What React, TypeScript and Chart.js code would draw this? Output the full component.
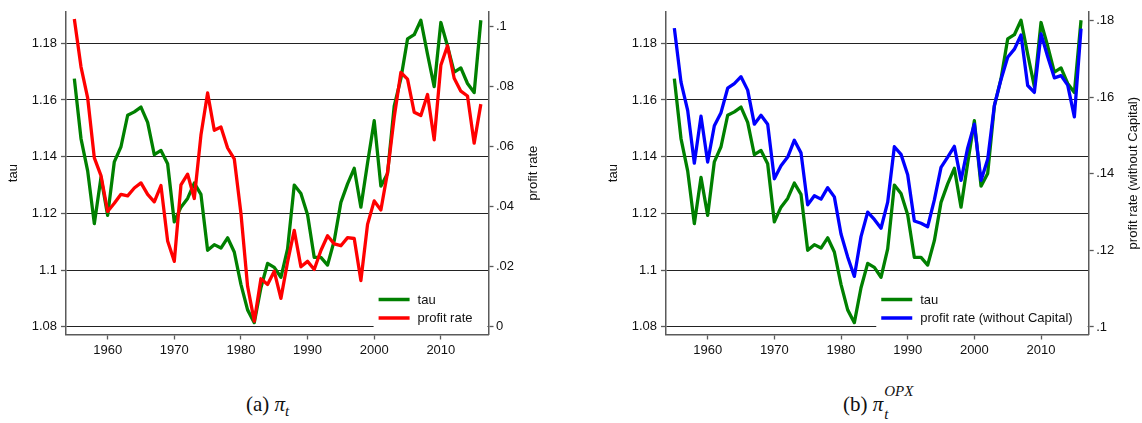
import React, { useEffect, useRef } from 'react';
import { Chart, registerables } from 'chart.js';

Chart.register(...registerables);

const YEARS = [
  1955, 1956, 1957, 1958, 1959, 1960, 1961, 1962, 1963, 1964,
  1965, 1966, 1967, 1968, 1969, 1970, 1971, 1972, 1973, 1974,
  1975, 1976, 1977, 1978, 1979, 1980, 1981, 1982, 1983, 1984,
  1985, 1986, 1987, 1988, 1989, 1990, 1991, 1992, 1993, 1994,
  1995, 1996, 1997, 1998, 1999, 2000, 2001, 2002, 2003, 2004,
  2005, 2006, 2007, 2008, 2009, 2010, 2011, 2012, 2013, 2014,
  2015, 2016,
];

const TAU = [
  1.1675, 1.1464, 1.135, 1.1164, 1.1327, 1.1193, 1.1382, 1.1435, 1.1546, 1.1558,
  1.1575, 1.1521, 1.1407, 1.1422, 1.1375, 1.117, 1.1222, 1.1253, 1.1307, 1.1267,
  1.107, 1.109, 1.1078, 1.1114, 1.1064, 1.095, 1.086, 1.0815, 1.0938, 1.1024,
  1.101, 1.0975, 1.1075, 1.13, 1.127, 1.1195, 1.1045, 1.1045, 1.1018, 1.1104,
  1.1239, 1.1304, 1.1359, 1.1222, 1.1378, 1.1527, 1.1296, 1.1341, 1.1578, 1.1675,
  1.1815, 1.183, 1.1881, 1.1761, 1.1647, 1.1873, 1.179, 1.1698, 1.1713, 1.1658,
  1.1626, 1.1881,
];

const PROFIT_RATE = [
  0.1024, 0.0865, 0.0762, 0.0562, 0.0503, 0.0384, 0.0411, 0.0441, 0.0436, 0.0462,
  0.0479, 0.0441, 0.0416, 0.047, 0.0286, 0.0218, 0.0472, 0.0508, 0.0427, 0.0638,
  0.0778, 0.0654, 0.0665, 0.0595, 0.0559, 0.0378, 0.0135, 0.0019, 0.016, 0.0141,
  0.0185, 0.0095, 0.0216, 0.0321, 0.02, 0.0218, 0.0191, 0.0254, 0.0303, 0.0276,
  0.027, 0.0297, 0.0294, 0.0154, 0.0341, 0.0419, 0.0389, 0.0514, 0.0697, 0.0846,
  0.0824, 0.0714, 0.0703, 0.0773, 0.0622, 0.087, 0.0935, 0.0827, 0.0784, 0.0768,
  0.0611, 0.0741,
];

const PROFIT_RATE_NO_CAPITAL = [
  0.1781, 0.164, 0.1566, 0.1428, 0.1551, 0.1431, 0.1526, 0.156, 0.1624, 0.1636,
  0.1654, 0.1619, 0.153, 0.1553, 0.153, 0.1387, 0.1421, 0.1444, 0.1488, 0.1455,
  0.1319, 0.1343, 0.1334, 0.1364, 0.134, 0.1243, 0.1183, 0.1132, 0.1236, 0.13,
  0.1281, 0.1258, 0.1326, 0.1471, 0.1451, 0.1398, 0.1277, 0.1271, 0.1262, 0.1332,
  0.1417, 0.1444, 0.1472, 0.1383, 0.1468, 0.153, 0.1383, 0.1438, 0.1579, 0.1647,
  0.1705, 0.1726, 0.1763, 0.1631, 0.1613, 0.1766, 0.1706, 0.1651, 0.1657, 0.1632,
  0.1549, 0.178,
];

const YEAR_TICKS = [1960, 1970, 1980, 1990, 2000, 2010];
const TAU_TICKS = [1.08, 1.1, 1.12, 1.14, 1.16, 1.18];
const PR_TICKS = [0, 0.02, 0.04, 0.06, 0.08, 0.1];
const PR_NOCAP_TICKS = [0.1, 0.12, 0.14, 0.16, 0.18];

const TAU_LABEL = 'tau';
const PR_LABEL = 'profit rate';
const PR_NOCAP_LABEL = 'profit rate (without Capital)';

const GREEN = '#008000';
const RED = '#ff0000';
const BLUE = '#0000ff';

const FONT_FAMILY = '"Liberation Sans", Arial, Helvetica, sans-serif';
const TEXT_COLOR = '#111111';
const AXIS_COLOR = '#5a5a5a';
const GRID_COLOR = '#222222';

const fmtTau = (v: number) => String(parseFloat(v.toFixed(2)));
const fmtRate = (v: number) =>
  v === 0 ? '0' : String(parseFloat(v.toFixed(2))).replace(/^0\./, '.');

function decorPlugin(rightTitle: string, rightTitleX: number) {
  return {
    id: 'decor',
    afterDraw(chart: any) {
      const ctx = chart.ctx as CanvasRenderingContext2D;
      const ca = chart.chartArea;
      ctx.save();
      ctx.font = `13px ${FONT_FAMILY}`;
      const items = chart.data.datasets.map((d: any) => ({
        label: d.label as string,
        color: d.borderColor as string,
      }));
      const tw = Math.max(...items.map((i: any) => ctx.measureText(i.label).width));
      const lineLen = 31;
      const gap = 8;
      const rightPad = 16;
      const rowH = 18.5;
      const x0 = ca.right - rightPad - tw - gap - lineLen;
      const y1 = ca.bottom - 16.5 - rowH * (items.length - 1);
      ctx.fillStyle = '#ffffff';
      ctx.fillRect(x0 - 5, y1 - 13, ca.right - 1 - (x0 - 5), ca.bottom - 1 - (y1 - 13));
      items.forEach((it: any, k: number) => {
        const y = y1 + k * rowH;
        ctx.strokeStyle = it.color;
        ctx.lineWidth = 3.5;
        ctx.lineCap = 'butt';
        ctx.beginPath();
        ctx.moveTo(x0, y);
        ctx.lineTo(x0 + lineLen, y);
        ctx.stroke();
        ctx.fillStyle = TEXT_COLOR;
        ctx.textBaseline = 'middle';
        ctx.textAlign = 'left';
        ctx.fillText(it.label, x0 + lineLen + gap, y + 0.5);
      });
      ctx.translate(rightTitleX, (ca.top + ca.bottom) / 2);
      ctx.rotate(-Math.PI / 2);
      ctx.textAlign = 'center';
      ctx.textBaseline = 'middle';
      ctx.fillStyle = TEXT_COLOR;
      ctx.fillText(rightTitle, 0, 0);
      ctx.restore();
    },
  };
}

interface PanelSpec {
  rateValues: number[];
  rateLabel: string;
  rateColor: string;
  rateTicks: number[];
  rateMin: number;
  rateMax: number;
  padLeft: number;
  rightAxisWidth: number;
  rightTitleX: number;
}

function buildConfig(p: PanelSpec): any {
  const tickFont = { family: FONT_FAMILY, size: 13 };
  return {
    type: 'line',
    data: {
      datasets: [
        {
          label: TAU_LABEL,
          data: YEARS.map((yr, i) => ({ x: yr, y: TAU[i] })),
          borderColor: GREEN,
          backgroundColor: GREEN,
          borderWidth: 3.3,
          pointRadius: 0,
          tension: 0,
          borderJoinStyle: 'round',
          yAxisID: 'y',
          order: 2,
        },
        {
          label: p.rateLabel,
          data: YEARS.map((yr, i) => ({ x: yr, y: p.rateValues[i] })),
          borderColor: p.rateColor,
          backgroundColor: p.rateColor,
          borderWidth: 3.3,
          pointRadius: 0,
          tension: 0,
          borderJoinStyle: 'round',
          yAxisID: 'y2',
          order: 1,
        },
      ],
    },
    options: {
      responsive: false,
      maintainAspectRatio: false,
      animation: false,
      devicePixelRatio: 1,
      layout: { padding: { top: 3, left: p.padLeft, right: 0, bottom: 0 } },
      plugins: {
        legend: { display: false },
        tooltip: { enabled: false },
        title: { display: false },
      },
      scales: {
        x: {
          type: 'linear',
          position: 'bottom',
          min: 1953.75,
          max: 2017.15,
          bounds: 'data',
          afterFit: (s: any) => {
            s.height = 25.5;
          },
          afterBuildTicks: (s: any) => {
            s.ticks = YEAR_TICKS.map((v) => ({ value: v }));
          },
          ticks: {
            font: tickFont,
            color: TEXT_COLOR,
            padding: 3,
            maxRotation: 0,
            autoSkip: false,
            callback: (v: number) => String(v),
          },
          grid: {
            drawOnChartArea: false,
            drawTicks: true,
            tickLength: 5,
            tickColor: AXIS_COLOR,
            tickWidth: 1.3,
          },
          border: { display: true, color: AXIS_COLOR, width: 1.5 },
        },
        y: {
          type: 'linear',
          position: 'left',
          min: 1.07732,
          max: 1.19108,
          bounds: 'data',
          afterFit: (s: any) => {
            s.width = 66;
          },
          afterBuildTicks: (s: any) => {
            s.ticks = TAU_TICKS.map((v) => ({ value: v }));
          },
          ticks: {
            font: tickFont,
            color: TEXT_COLOR,
            padding: 4,
            autoSkip: false,
            callback: (v: number) => fmtTau(v),
          },
          grid: {
            drawOnChartArea: true,
            drawTicks: true,
            tickLength: 5,
            color: GRID_COLOR,
            lineWidth: 1,
            tickColor: AXIS_COLOR,
            tickWidth: 1.3,
          },
          border: { display: true, color: AXIS_COLOR, width: 1.5 },
          title: {
            display: true,
            text: TAU_LABEL,
            font: { family: FONT_FAMILY, size: 13 },
            color: TEXT_COLOR,
            padding: { top: 6, bottom: 0 },
          },
        },
        y2: {
          type: 'linear',
          position: 'right',
          min: p.rateMin,
          max: p.rateMax,
          bounds: 'data',
          afterFit: (s: any) => {
            s.width = p.rightAxisWidth;
          },
          afterBuildTicks: (s: any) => {
            s.ticks = p.rateTicks.map((v) => ({ value: v }));
          },
          ticks: {
            font: tickFont,
            color: TEXT_COLOR,
            padding: 2.5,
            autoSkip: false,
            callback: (v: number) => fmtRate(v),
          },
          grid: {
            drawOnChartArea: false,
            drawTicks: true,
            tickLength: 5,
            tickColor: AXIS_COLOR,
            tickWidth: 1.3,
          },
          border: { display: true, color: AXIS_COLOR, width: 1.5 },
        },
      },
    },
    plugins: [decorPlugin(p.rateLabel, p.rightTitleX)],
  };
}

function Panel({ spec, left }: { spec: PanelSpec; left: number }) {
  const ref = useRef<HTMLCanvasElement | null>(null);
  useEffect(() => {
    if (!ref.current) return;
    const chart = new Chart(ref.current, buildConfig(spec));
    return () => chart.destroy();
  }, []);
  return (
    <canvas
      ref={ref}
      width={571}
      height={360}
      style={{ position: 'absolute', left, top: 0, width: 571, height: 360, display: 'block' }}
    />
  );
}

const PANEL_A: PanelSpec = {
  rateValues: PROFIT_RATE,
  rateLabel: PR_LABEL,
  rateColor: RED,
  rateTicks: PR_TICKS,
  rateMin: -0.00253,
  rateMax: 0.1048,
  padLeft: 0,
  rightAxisWidth: 82.5,
  rightTitleX: 533.5,
};

const PANEL_B: PanelSpec = {
  rateValues: PROFIT_RATE_NO_CAPITAL,
  rateLabel: PR_NOCAP_LABEL,
  rateColor: BLUE,
  rateTicks: PR_NOCAP_TICKS,
  rateMin: 0.09802,
  rateMax: 0.18237,
  padLeft: 29,
  rightAxisWidth: 53.3,
  rightTitleX: 562,
};

const captionFont = '"Liberation Serif", "DejaVu Serif", serif';

export default function App() {
  return (
    <div
      style={{
        position: 'absolute',
        left: 0,
        top: 0,
        width: 1142,
        height: 423,
        background: '#ffffff',
        overflow: 'hidden',
      }}
    >
      <Panel spec={PANEL_A} left={0} />
      <Panel spec={PANEL_B} left={571} />
      <div
        style={{
          position: 'absolute',
          left: 246,
          top: 392,
          fontFamily: captionFont,
          fontSize: 21,
          lineHeight: '24px',
          color: '#111',
          whiteSpace: 'nowrap',
        }}
      >
        (a) <i>π</i>
        <i style={{ fontSize: 15, position: 'relative', top: 5 }}>t</i>
      </div>
      <div
        style={{
          position: 'absolute',
          left: 843,
          top: 392,
          fontFamily: captionFont,
          fontSize: 21,
          lineHeight: '24px',
          color: '#111',
          whiteSpace: 'nowrap',
        }}
      >
        (b) <i>π</i>
        <span style={{ position: 'relative', display: 'inline-block', width: 50, height: 10 }}>
          <i style={{ position: 'absolute', left: 1, top: -22, fontSize: 15 }}>OPX</i>
          <i style={{ position: 'absolute', left: 1, top: 1, fontSize: 15 }}>t</i>
        </span>
      </div>
    </div>
  );
}
